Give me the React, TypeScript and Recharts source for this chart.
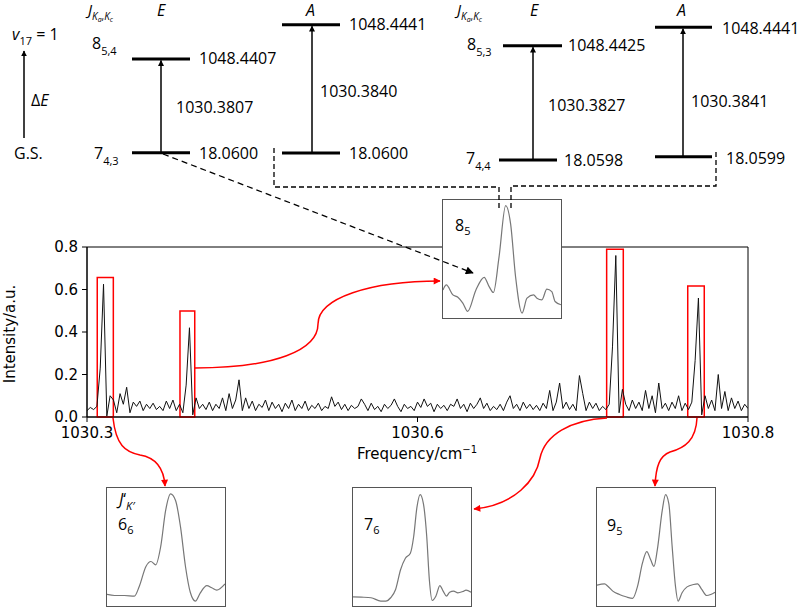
import React from "react";
import { LineChart, Line, XAxis, YAxis, ReferenceArea } from "recharts";

// ---------- main spectrum ----------
const freqStart = 1030.3;
const freqStep = 0.003;
const intensity = [
  0.03, 0.045, 0.035, 0.05, 0.23, 0.625, 0.005, 0.1, 0.08, 0.02,
  0.11, 0.06, 0.14, 0.02, 0.07, 0.05, 0.075, 0.03, 0.06, 0.04,
  0.065, 0.035, 0.05, 0.03, 0.075, 0.04, 0.08, 0.03, 0.06, 0.02,
  0.15, 0.42, 0.01, 0.09, 0.04, 0.06, 0.035, 0.07, 0.03, 0.06,
  0.04, 0.09, 0.03, 0.11, 0.04, 0.08, 0.175, 0.03, 0.09, 0.04,
  0.075, 0.03, 0.06, 0.045, 0.08, 0.03, 0.07, 0.04, 0.06, 0.025,
  0.065, 0.04, 0.08, 0.03, 0.06, 0.04, 0.075, 0.03, 0.055, 0.04,
  0.065, 0.03, 0.05, 0.04, 0.095, 0.05, 0.07, 0.035, 0.06, 0.03,
  0.055, 0.04, 0.05, 0.085, 0.06, 0.03, 0.065, 0.035, 0.05, 0.025,
  0.06, 0.04, 0.055, 0.085, 0.05, 0.025, 0.06, 0.04, 0.05, 0.03,
  0.07, 0.045, 0.085, 0.05, 0.065, 0.025, 0.06, 0.04, 0.055, 0.03,
  0.06, 0.05, 0.085, 0.04, 0.06, 0.025, 0.065, 0.04, 0.06, 0.09,
  0.04, 0.065, 0.03, 0.05, 0.035, 0.06, 0.03, 0.07, 0.1, 0.04,
  0.06, 0.03, 0.07, 0.04, 0.06, 0.035, 0.055, 0.03, 0.065, 0.04,
  0.125, 0.03, 0.07, 0.16, 0.04, 0.07, 0.035, 0.06, 0.03, 0.195,
  0.11, 0.03, 0.07, 0.04, 0.065, 0.03, 0.05, 0.035, 0.06, 0.33,
  0.76, 0.02, 0.13, 0.06, 0.03, 0.08, 0.04, 0.07, 0.03, 0.125,
  0.04, 0.1, 0.02, 0.16, 0.04, 0.065, 0.03, 0.07, 0.04, 0.1,
  0.03, 0.065, 0.035, 0.07, 0.265, 0.56, 0.01, 0.1, 0.04, 0.08,
  0.03, 0.2, 0.04, 0.12, 0.03, 0.09, 0.04, 0.075, 0.03, 0.06,
  0.04,
];
const spectrum = intensity.map((v, i) => ({
  f: Number((freqStart + freqStep * i).toFixed(4)),
  v,
}));

const yTicks = [0, 0.2, 0.4, 0.6, 0.8];
const xTicks = [1030.3, 1030.6, 1030.9];
const xTickLabels = ["1030.3", "1030.6", "1030.8"];

// highlighted peaks (frequency range, box top in intensity)
const peakBoxes = [
  { x1: 1030.3093, x2: 1030.3239, top: 0.657 },
  { x1: 1030.3844, x2: 1030.3978, top: 0.499 },
  { x1: 1030.7717, x2: 1030.7868, top: 0.789 },
  { x1: 1030.8453, x2: 1030.8603, top: 0.616 },
];

// ---------- energy level diagram labels ----------
const upperLevels = ["1048.4407", "1048.4441", "1048.4425", "1048.4441"];
const lowerLevels = ["18.0600", "18.0600", "18.0598", "18.0599"];
const transitions = ["1030.3807", "1030.3840", "1030.3827", "1030.3841"];

// ---------- zoomed insets (relative units 0-100) ----------
const inset85: number[][] = [
  [0, 23.8], [2.8, 28.0], [8.4, 19.6], [12.6, 17.6], [16.8, 12.6], [20.9, 5.6],
  [27.9, 23.8], [34.9, 34.5], [39.1, 26.6], [42.7, 21.6], [47.5, 51.8], [53.1, 95.2],
  [57.3, 79.8], [61.5, 35.0], [67.0, 4.2], [71.2, 16.8], [76.8, 19.6], [79.6, 16.8],
  [83.8, 15.4], [88.0, 24.4], [92.2, 22.4], [95.0, 14.0], [100, 11.2],
];
const inset66: number[][] = [
  [0, 9.8], [6.4, 8.9], [14.8, 8.9], [23.2, 8.4], [27.4, 16.8], [33.0, 33.5],
  [37.2, 37.7], [41.3, 34.9], [45.5, 50.3], [49.7, 81.0], [53.9, 95.0], [58.1, 89.4],
  [62.3, 67.0], [66.5, 33.5], [70.7, 11.2], [74.9, 4.2], [79.1, 11.2], [84.6, 17.3],
  [88.8, 15.4], [93.0, 13.4], [100, 18.7],
];
const inset76: number[][] = [
  [0, 7.8], [6.9, 7.5], [15.3, 7.0], [23.6, 4.2], [27.8, 4.2], [31.9, 7.0],
  [36.1, 14.0], [40.3, 30.7], [44.4, 40.5], [48.6, 44.7], [51.4, 58.7], [54.2, 83.8],
  [56.9, 94.4], [59.7, 86.6], [62.5, 58.7], [64.7, 22.3], [67.2, 4.7], [70.3, 8.4],
  [73.6, 17.3], [76.4, 12.6], [79.2, 8.4], [81.9, 11.7], [85.3, 12.6], [88.9, 11.2],
  [93.1, 12.3], [95.8, 13.4], [100, 11.7],
];
const inset95: number[][] = [
  [0, 17.6], [6.4, 18.7], [9.2, 16.8], [13.4, 12.6], [19.0, 9.8], [24.6, 7.8],
  [30.2, 6.4], [34.4, 16.8], [38.5, 36.3], [42.2, 46.1], [45.5, 39.1], [48.3, 33.5],
  [51.1, 47.5], [55.3, 81.0], [58.1, 94.4], [60.9, 86.6], [63.7, 50.3], [66.5, 16.8],
  [68.7, 4.2], [72.1, 11.2], [76.3, 16.2], [81.8, 18.2], [85.2, 18.7], [88.8, 14.0],
  [93.0, 8.9], [96.4, 9.8], [100, 11.7],
];

const AXIS_FONT = "DejaVu Sans, sans-serif";
const DIAG_FONT = "'Open Sans', 'Noto Sans', sans-serif";

function Inset({ pts, left, top }: { pts: number[][]; left: number; top: number }) {
  const d = pts.map(([x, y]) => ({ x, y }));
  return (
    <div
      style={{
        position: "absolute",
        left,
        top,
        width: 120,
        height: 120,
        boxSizing: "border-box",
        border: "1px solid #555",
        background: "#fff",
      }}
    >
      <LineChart width={118} height={118} data={d} margin={{ top: 0, right: 0, bottom: 0, left: 0 }}>
        <XAxis type="number" dataKey="x" domain={[0, 100]} hide />
        <YAxis type="number" domain={[0, 100]} hide />
        <Line
          type="monotone"
          dataKey="y"
          stroke="#777"
          strokeWidth={1.2}
          dot={false}
          isAnimationActive={false}
        />
      </LineChart>
    </div>
  );
}

function lbl(v: number) {
  const i = xTicks.findIndex((t) => Math.abs(t - v) < 1e-6);
  return i >= 0 ? xTickLabels[i] : String(v);
}

export default function App() {
  const t = { fontFamily: DIAG_FONT, fontSize: 16, fill: "#000" } as const;
  return (
    <div style={{ position: "absolute", left: 0, top: 0, width: 800, height: 610, background: "#fff" }}>
      <div style={{ position: "absolute", left: 0, top: 0 }}>
        <LineChart
          width={800}
          height={610}
          data={spectrum}
          margin={{ top: 247, right: 52, bottom: 163, left: 27 }}
        >
          <XAxis
            type="number"
            dataKey="f"
            domain={[1030.3, 1030.9]}
            ticks={xTicks}
            tickFormatter={lbl}
            allowDataOverflow
            height={30}
            tickSize={5}
            tickMargin={5}
            stroke="#000"
            tick={{ fill: "#000", fontSize: 15, fontFamily: AXIS_FONT }}
          />
          <YAxis
            type="number"
            domain={[0, 0.8]}
            ticks={yTicks}
            tickFormatter={(v: number) => v.toFixed(1)}
            width={60}
            tickSize={5}
            tickMargin={4}
            stroke="#000"
            tick={{ fill: "#000", fontSize: 15, fontFamily: AXIS_FONT }}
          />
          <ReferenceArea
            x1={1030.3}
            x2={1030.9}
            y1={0}
            y2={0.8}
            fill="none"
            fillOpacity={0}
            stroke="#000"
            strokeWidth={1}
          />
          <Line
            type="linear"
            dataKey="v"
            stroke="#111"
            strokeWidth={1}
            dot={false}
            isAnimationActive={false}
          />
          {peakBoxes.map((b, i) => (
            <ReferenceArea
              key={i}
              x1={b.x1}
              x2={b.x2}
              y1={0}
              y2={b.top}
              fill="none"
              fillOpacity={0}
              stroke="#ff0000"
              strokeWidth={1.5}
            />
          ))}
        </LineChart>
      </div>

      <Inset pts={inset85} left={442} top={199} />
      <Inset pts={inset66} left={106} top={487} />
      <Inset pts={inset76} left={352} top={487} />
      <Inset pts={inset95} left={596} top={487} />

      <svg
        width={800}
        height={610}
        style={{ position: "absolute", left: 0, top: 0, pointerEvents: "none" }}
      >
        <defs>
          <marker id="ahs" viewBox="0 0 10 10" refX="9" refY="5" markerWidth="6" markerHeight="6" markerUnits="userSpaceOnUse" orient="auto">
            <path d="M0,0 L10,5 L0,10 z" fill="#000" />
          </marker>
          <marker id="ahd" viewBox="0 0 10 10" refX="9" refY="5" markerWidth="10" markerHeight="8" markerUnits="userSpaceOnUse" orient="auto">
            <path d="M0,0 L10,5 L0,10 z" fill="#000" />
          </marker>
          <marker id="ahr" viewBox="0 0 10 10" refX="9" refY="5" markerWidth="8" markerHeight="7" markerUnits="userSpaceOnUse" orient="auto">
            <path d="M0,0 L10,5 L0,10 z" fill="#ff0000" />
          </marker>
        </defs>

        {/* axis titles */}
        <text
          transform="translate(15,334) rotate(-90)"
          textAnchor="middle"
          fontFamily={AXIS_FONT}
          fontSize={15}
          fill="#000"
        >
          Intensity/a.u.
        </text>
        <text x={417} y={459} textAnchor="middle" fontFamily={AXIS_FONT} fontSize={15} fill="#000">
          Frequency/cm
          <tspan fontSize={10} dy={-6}>−1</tspan>
        </text>

        {/* left legend */}
        <text x={12} y={40} {...t}>
          <tspan fontStyle="italic">v</tspan>
          <tspan fontSize={11} dy={5}>17</tspan>
          <tspan dy={-5}> = 1</tspan>
        </text>
        <line x1={24} y1={138} x2={24} y2={51} stroke="#000" strokeWidth={1.5} markerEnd="url(#ahs)" />
        <text x={31} y={106} {...t}>
          Δ<tspan fontStyle="italic">E</tspan>
        </text>
        <text x={14} y={159} {...t}>G.S.</text>

        {/* column headers */}
        {[88, 457].map((x, i) => (
          <text key={"j" + i} x={x} y={15} fontFamily={DIAG_FONT} fontSize={15} fill="#000">
            <tspan fontStyle="italic">J</tspan>
            <tspan fontStyle="italic" fontSize={10} dy={5}>K</tspan>
            <tspan fontStyle="italic" fontSize={7} dy={2}>a</tspan>
            <tspan fontSize={10} dy={-2}>,</tspan>
            <tspan fontStyle="italic" fontSize={10}>K</tspan>
            <tspan fontStyle="italic" fontSize={7} dy={2}>c</tspan>
          </text>
        ))}
        <text x={157} y={16} {...t} fontStyle="italic">E</text>
        <text x={306} y={16} {...t} fontStyle="italic">A</text>
        <text x={530} y={16} {...t} fontStyle="italic">E</text>
        <text x={677} y={16} {...t} fontStyle="italic">A</text>

        {/* J labels */}
        <text x={92} y={49} {...t}>8<tspan fontSize={11} dy={6}>5,4</tspan></text>
        <text x={94} y={159} {...t}>7<tspan fontSize={11} dy={6}>4,3</tspan></text>
        <text x={467} y={50} {...t}>8<tspan fontSize={11} dy={6}>5,3</tspan></text>
        <text x={466} y={164} {...t}>7<tspan fontSize={11} dy={6}>4,4</tspan></text>

        {/* level 1: E */}
        <line x1={132} y1={59} x2={190} y2={59} stroke="#000" strokeWidth={3} />
        <line x1={132} y1={152.7} x2={190} y2={152.7} stroke="#000" strokeWidth={3} />
        <line x1={161} y1={152.7} x2={161} y2={60.5} stroke="#000" strokeWidth={1.5} markerEnd="url(#ahs)" />
        <text x={199} y={64} {...t}>{upperLevels[0]}</text>
        <text x={199} y={159} {...t}>{lowerLevels[0]}</text>
        <text x={176} y={113} {...t}>{transitions[0]}</text>

        {/* level 2: A */}
        <line x1={282} y1={24.7} x2={340} y2={24.7} stroke="#000" strokeWidth={3} />
        <line x1={282} y1={153} x2={340} y2={153} stroke="#000" strokeWidth={3} />
        <line x1={312} y1={153} x2={312} y2={26.2} stroke="#000" strokeWidth={1.5} markerEnd="url(#ahs)" />
        <text x={349} y={30} {...t}>{upperLevels[1]}</text>
        <text x={349} y={159} {...t}>{lowerLevels[1]}</text>
        <text x={320} y={97} {...t}>{transitions[1]}</text>

        {/* level 3: E */}
        <line x1={503} y1={45.7} x2={562} y2={45.7} stroke="#000" strokeWidth={3} />
        <line x1={499} y1={160} x2={557} y2={160} stroke="#000" strokeWidth={3} />
        <line x1={533} y1={160} x2={533} y2={47.2} stroke="#000" strokeWidth={1.5} markerEnd="url(#ahs)" />
        <text x={568} y={51} {...t}>{upperLevels[2]}</text>
        <text x={564} y={166} {...t}>{lowerLevels[2]}</text>
        <text x={548} y={111} {...t}>{transitions[2]}</text>

        {/* level 4: A */}
        <line x1={655} y1={27.3} x2={712} y2={27.3} stroke="#000" strokeWidth={3} />
        <line x1={655} y1={156.7} x2={712} y2={156.7} stroke="#000" strokeWidth={3} />
        <line x1={683} y1={156.7} x2={683} y2={28.8} stroke="#000" strokeWidth={1.5} markerEnd="url(#ahs)" />
        <text x={722} y={34} {...t}>{upperLevels[3]}</text>
        <text x={726} y={164} {...t}>{lowerLevels[3]}</text>
        <text x={691} y={107} {...t}>{transitions[3]}</text>

        {/* dashed connectors */}
        <path d="M274,148 L274,187 L499,187 L499,208" fill="none" stroke="#000" strokeWidth={1.3} strokeDasharray="5,3" />
        <path d="M716,152 L716,186 L511,186 L511,208" fill="none" stroke="#000" strokeWidth={1.3} strokeDasharray="5,3" />
        <path d="M163,154 L473,273" fill="none" stroke="#000" strokeWidth={1.3} strokeDasharray="6,4" markerEnd="url(#ahd)" />

        {/* red connectors */}
        <path d="M195,368 C275,368 318,350 318,324 C318,298 370,281 440,281" fill="none" stroke="#ff0000" strokeWidth={1.5} markerEnd="url(#ahr)" />
        <path d="M113,418 C116,445 125,452 140,455 C158,458 164,470 165,486" fill="none" stroke="#ff0000" strokeWidth={1.5} markerEnd="url(#ahr)" />
        <path d="M607,418 C570,420 545,435 540,458 C536,480 515,505 474,509" fill="none" stroke="#ff0000" strokeWidth={1.5} markerEnd="url(#ahr)" />
        <path d="M697,418 C696,440 685,448 670,452 C660,456 656,465 655,486" fill="none" stroke="#ff0000" strokeWidth={1.5} markerEnd="url(#ahr)" />

        {/* inset labels */}
        <text x={455} y={231} {...t} fontSize={16}>8<tspan fontSize={11} dy={4}>5</tspan></text>
        <text x={119} y={505} {...t}>
          <tspan fontStyle="italic">J</tspan>
          <tspan>‘</tspan>
          <tspan fontStyle="italic" fontSize={11} dy={5}>K′</tspan>
        </text>
        <text x={118} y={530} {...t}>6<tspan fontSize={11} dy={4}>6</tspan></text>
        <text x={364} y={530} {...t}>7<tspan fontSize={11} dy={4}>6</tspan></text>
        <text x={607} y={531} {...t}>9<tspan fontSize={11} dy={4}>5</tspan></text>
      </svg>
    </div>
  );
}
